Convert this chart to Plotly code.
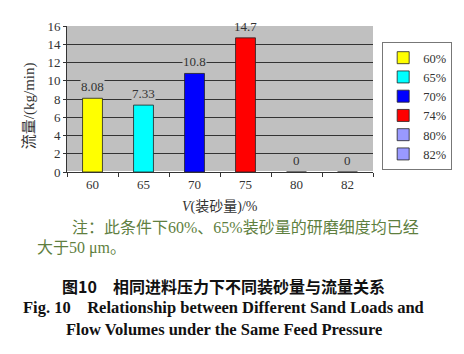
import plotly.graph_objects as go

categories = ["60", "65", "70", "75", "80", "82"]
values = [8.08, 7.33, 10.8, 14.7, 0, 0]
value_labels = ["8.08", "7.33", "10.8", "14.7", "0", "0"]
legend_names = ["60%", "65%", "70%", "74%", "80%", "82%"]
colors = ["#ffff00", "#00ffff", "#0000ff", "#ff0000", "#9999ff", "#9999ff"]
y_ticks = [0, 2, 4, 6, 8, 10, 12, 14, 16]

SERIF = "Liberation Serif"
CJK = "Noto Sans CJK SC"

fig = go.Figure()
for cat, val, name, col in zip(categories, values, legend_names, colors):
    fig.add_trace(go.Bar(
        x=[cat], y=[val], name=name, width=0.39,
        marker=dict(color=col, line=dict(color="#222222", width=0.8)),
        cliponaxis=False,
    ))

for i, (val, lab) in enumerate(zip(values, value_labels)):
    inside = 0 < val < 14
    fig.add_annotation(
        x=i, y=val, text=lab, showarrow=False, yanchor="bottom", yshift=3,
        font=dict(family=SERIF, size=13, color="#333333"),
        bgcolor="#c0c0c0" if inside else "rgba(0,0,0,0)", borderpad=0,
    )

fig.update_layout(
    width=464, height=354,
    margin=dict(l=67, r=83, t=26, b=182),
    paper_bgcolor="white", plot_bgcolor="#c0c0c0",
    barmode="overlay",
    showlegend=True,
    legend=dict(
        x=1.03, y=0.89, xanchor="left", yanchor="top",
        bgcolor="white", bordercolor="#777777", borderwidth=1,
        font=dict(family=SERIF, size=12.5, color="#333333"),
        tracegroupgap=0, itemwidth=30, traceorder="normal",
    ),
    font=dict(family=SERIF, size=12, color="#333333"),
)

fig.update_xaxes(
    type="category", categoryorder="array", categoryarray=categories,
    range=[-0.5, 5.5],
    showline=True, linecolor="#333333", linewidth=1,
    ticks="outside", tickson="boundaries", ticklen=4, tickcolor="#333333",
    showgrid=False,
    tickfont=dict(family=SERIF, size=13, color="#333333"),
)
fig.update_yaxes(
    range=[0, 16], tickvals=y_ticks,
    showline=True, linecolor="#333333", linewidth=1,
    ticks="outside", ticklen=3, tickcolor="#333333",
    showgrid=True, gridcolor="#333333", gridwidth=1,
    tickfont=dict(family=SERIF, size=13, color="#333333"),
)

def ann(x, y, text, size, color, family, xanchor="left", angle=0):
    fig.add_annotation(xref="paper", yref="paper", x=(x - 67) / 314, y=(172 - y) / 146.3,
                       xanchor=xanchor, yanchor="middle", text=text, showarrow=False,
                       textangle=angle, font=dict(family=family, size=size, color=color))

ann(28, 105, "流量/(kg/min)", 15, "#333333", SERIF + ", " + CJK, "center", -90)
ann(224, 207, "<i>V</i>(装砂量)/%", 14, "#333333", SERIF + ", " + CJK, "center")
ann(70, 228, "注：此条件下60%、65%装砂量的研磨细度均已经", 16, "#5f7f3f", SERIF + ", " + CJK)
ann(34, 248, "大于50 μm。", 16, "#5f7f3f", SERIF + ", " + CJK)
ann(228, 286, "<b>图10　相同进料压力下不同装砂量与流量关系</b>", 16, "#111111", CJK, "center")
ann(228, 308, "<b>Fig. 10    Relationship between Different Sand Loads and</b>", 16.5, "#111111", SERIF, "center")
ann(228, 330, "<b>Flow Volumes under the Same Feed Pressure</b>", 16.5, "#111111", SERIF, "center")

fig.write_html("out.html")
